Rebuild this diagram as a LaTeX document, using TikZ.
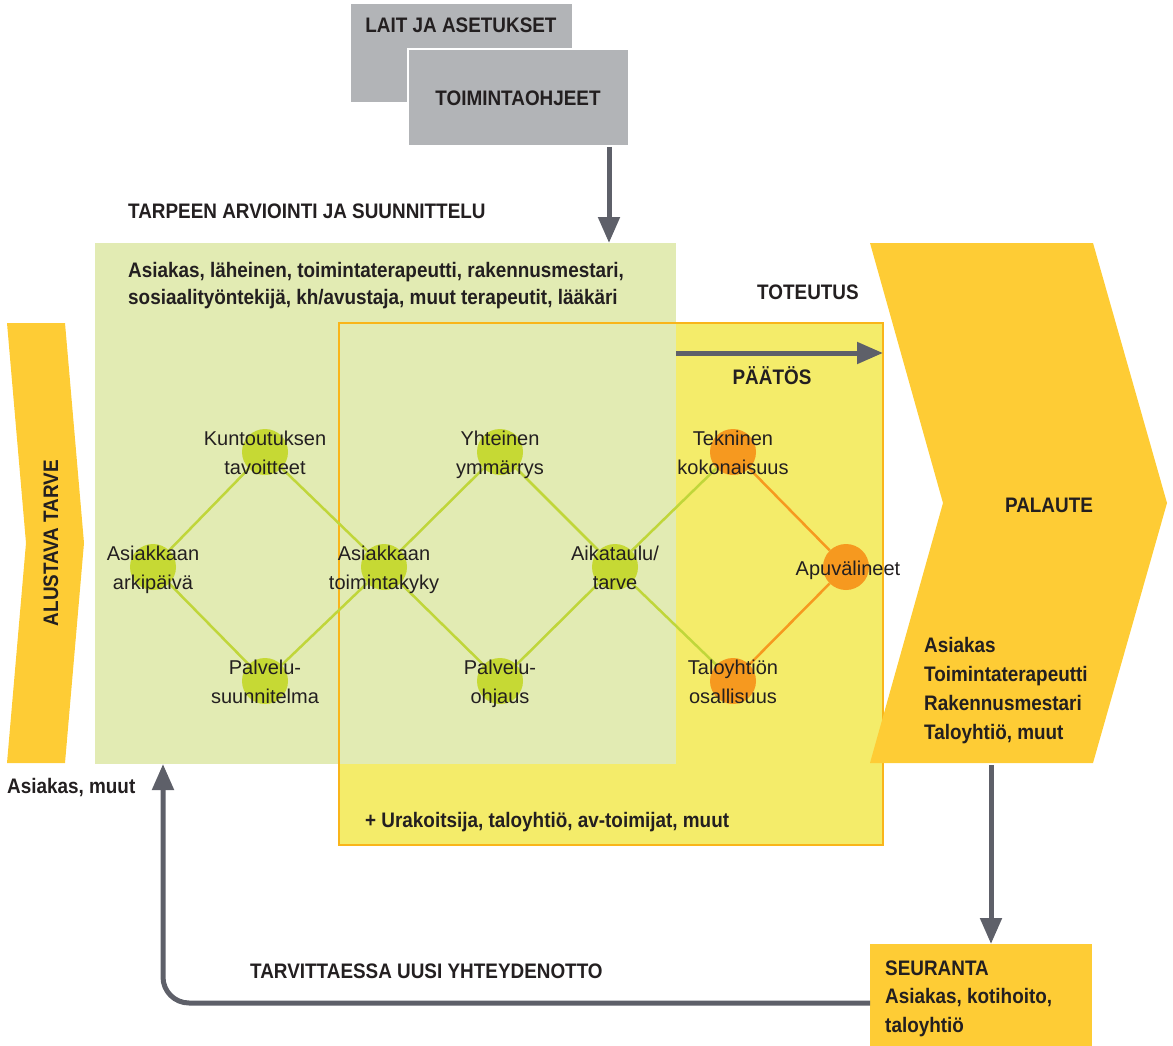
\documentclass[tikz,border=0pt]{standalone}
\usepackage{fontspec}
\setmainfont{Liberation Sans}[FakeStretch=0.9]
\newfontfamily\nodefont{Liberation Sans}
\usetikzlibrary{arrows.meta}
\definecolor{ink}{HTML}{231F20}
\definecolor{boxgray}{HTML}{B2B4B7}
\definecolor{bggreen}{HTML}{E2EBB3}
\definecolor{bgyellow}{HTML}{F4EC6A}
\definecolor{borderorange}{HTML}{F9B51A}
\definecolor{chevyellow}{HTML}{FECC35}
\definecolor{dotgreen}{HTML}{C6D934}
\definecolor{linegreen}{HTML}{C0D63A}
\definecolor{dotorange}{HTML}{F6991F}
\definecolor{arrowgray}{HTML}{5E6069}
\begin{document}
\begin{tikzpicture}[x=1pt,y=-1pt,
  txt/.style={text=ink, inner sep=0pt},
  hd/.style={txt, font=\fontsize{21}{28}\selectfont\bfseries},
  lbl/.style={txt, font=\nodefont\fontsize{20}{29}\selectfont, align=center},
  panel/.style={anchor=north west, inner sep=0pt, outer sep=0pt},
  gdot/.style={circle, fill=dotgreen, minimum size=46pt, inner sep=0pt},
  odot/.style={circle, fill=dotorange, minimum size=46pt, inner sep=0pt},
  glink/.style={draw=linegreen, line width=2.5pt},
  olink/.style={draw=dotorange, line width=2.5pt},
  bigarrow/.style={draw=arrowgray, line width=5pt, -{Triangle[length=26pt,width=21pt]}},
]
\useasboundingbox (0,0) rectangle (1173,1046);

% gray boxes
\node[panel, fill=boxgray, minimum width=221pt, minimum height=98pt] (lait) at (351,4) {};
\node[hd, anchor=base] (laitt) at (461,33) {LAIT JA ASETUKSET};
\node[panel, fill=boxgray, draw=white, line width=1.5pt, minimum width=221pt, minimum height=97pt] (toim) at (408,49) {};
\node[hd, anchor=base] (toimt) at (518,106) {TOIMINTAOHJEET};

% panels
\node[panel, fill=bgyellow, minimum width=544pt, minimum height=522pt] (yel) at (339,323) {};
\node[panel, fill=bggreen, minimum width=581pt, minimum height=521pt] (green) at (95,243) {};
\draw[borderorange, line width=2.5pt] (yel.north west) rectangle (yel.south east);

% left chevron
\fill[chevyellow] (7,323) -- (65,323) -- (84,543) -- (65,763) -- (7,763) -- (26,543) -- cycle;
\node[hd, rotate=90] (alustava) at (51,543) {ALUSTAVA TARVE};
\node[hd, anchor=base west] (asmuut) at (7,793) {Asiakas, muut};

% right chevron
\fill[chevyellow] (870,243) -- (1093,243) -- (1167,503) -- (1093,763) -- (870,763) -- (943,503) -- cycle;
\node[hd, anchor=base] (palaute) at (1049,512) {PALAUTE};
\node[hd, anchor=base west] (p1) at (924,652) {Asiakas};
\node[hd, anchor=base west] (p2) at (924,681) {Toimintaterapeutti};
\node[hd, anchor=base west] (p3) at (924,710) {Rakennusmestari};
\node[hd, anchor=base west] (p4) at (924,739) {Taloyhtiö, muut};

% seuranta
\node[panel, fill=chevyellow, minimum width=222pt, minimum height=102pt] (seur) at (870,944) {};
\node[hd, anchor=base west] (s1) at (885,975) {SEURANTA};
\node[hd, anchor=base west] (s2) at (885,1003) {Asiakas, kotihoito,};
\node[hd, anchor=base west] (s3) at (885,1032) {taloyhtiö};

% headings and texts
\node[hd, anchor=base west] (tarpeen) at (128,218) {TARPEEN ARVIOINTI JA SUUNNITTELU};
\node[hd, anchor=base west] (g1) at (128,277) {Asiakas, läheinen, toimintaterapeutti, rakennusmestari,};
\node[hd, anchor=base west] (g2) at (128,304) {sosiaalityöntekijä, kh/avustaja, muut terapeutit, lääkäri};
\node[hd, anchor=base west] (toteutus) at (757,299) {TOTEUTUS};
\node[hd, anchor=base] (paatos) at (772,384) {PÄÄTÖS};
\node[hd, anchor=base west] (urak) at (365,827) {+ Urakoitsija, taloyhtiö, av-toimijat, muut};
\node[hd, anchor=base west] (tarv) at (250,978) {TARVITTAESSA UUSI YHTEYDENOTTO};

% circles
\node[gdot] (ark) at (153,567) {};
\node[gdot] (kun) at (265,452) {};
\node[gdot] (psu) at (265,681) {};
\node[gdot] (tkk) at (384,567) {};
\node[gdot] (yht) at (500,452) {};
\node[gdot] (poh) at (500,681) {};
\node[gdot] (aik) at (615,567) {};
\node[odot] (tek) at (733,452) {};
\node[odot] (tal) at (733,681) {};
\node[odot] (apu) at (846,567) {};

\draw[glink] (ark) -- (kun);
\draw[glink] (ark) -- (psu);
\draw[glink] (kun) -- (tkk);
\draw[glink] (psu) -- (tkk);
\draw[glink] (tkk) -- (yht);
\draw[glink] (tkk) -- (poh);
\draw[glink] (yht) -- (aik);
\draw[glink] (poh) -- (aik);
\draw[glink] (aik) -- (tek);
\draw[glink] (aik) -- (tal);
\draw[olink] (tek) -- (apu);
\draw[olink] (tal) -- (apu);

% labels
\node[lbl] (arkL) at (153,569) {\strut Asiakkaan\\\strut arkipäivä};
\node[lbl] (kunL) at (265,454) {\strut Kuntoutuksen\\\strut tavoitteet};
\node[lbl] (psuL) at (265,683) {\strut Palvelu-\\\strut suunnitelma};
\node[lbl] (tkkL) at (384,569) {\strut Asiakkaan\\\strut toimintakyky};
\node[lbl] (yhtL) at (500,454) {\strut Yhteinen\\\strut ymmärrys};
\node[lbl] (pohL) at (500,683) {\strut Palvelu-\\\strut ohjaus};
\node[lbl] (aikL) at (615,569) {\strut Aikataulu/\\\strut tarve};
\node[lbl] (tekL) at (733,454) {\strut Tekninen\\\strut kokonaisuus};
\node[lbl] (talL) at (733,683) {\strut Taloyhtiön\\\strut osallisuus};
\node[lbl, anchor=base] (apuL) at (848,575) {Apuvälineet};

% arrows
\coordinate (toimout) at (609,147);
\draw[bigarrow] (toimout) -- (toimout |- green.north);
\coordinate (pst) at (676,353);
\draw[bigarrow] (pst) -- (pst -| yel.east);
\coordinate (palb) at (991,765);
\draw[bigarrow] (palb) -- (palb |- seur.north);
\coordinate (back) at (870,1003);
\coordinate (retc) at (163,1003);
\draw[bigarrow, rounded corners=26pt] (back) -- (retc) -- (retc |- green.south);
\end{tikzpicture}
\end{document}
